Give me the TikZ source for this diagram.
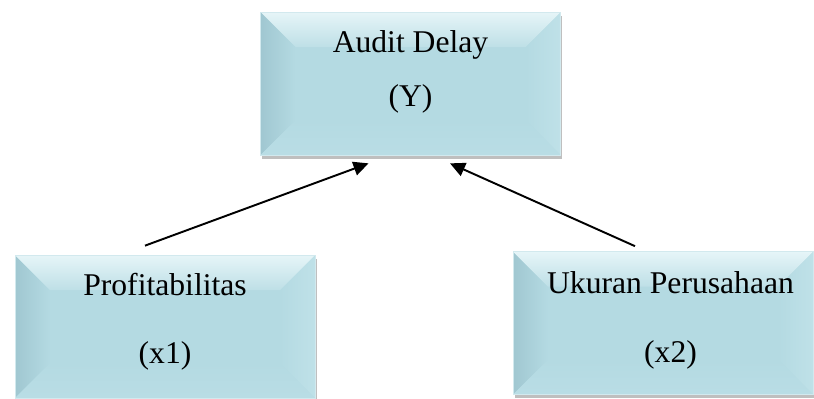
\documentclass[tikz,border=0pt]{standalone}
\usepackage{fontspec}
\setmainfont{Liberation Serif}
\usepackage{tikz}
\usetikzlibrary{arrows.meta,positioning,shadows}
\definecolor{BoxFill}{HTML}{B4DAE2}
\definecolor{BevTop}{HTML}{E6F5F8}
\definecolor{BevLeft}{HTML}{A0C7D1}
\definecolor{BevRight}{HTML}{BFE1E8}
\definecolor{BevBot}{HTML}{B9DDE5}

\begin{document}
\begin{tikzpicture}[
  bevbox/.style={rectangle, fill=BoxFill, draw=BoxFill!60!white, line width=0.4pt,
                 minimum width=6.0cm, minimum height=2.86cm,
                 align=center, font=\fontsize{18}{21.6}\selectfont,
                 drop shadow={shadow xshift=0.03cm, shadow yshift=-0.07cm, opacity=0.25, fill=black},
                 path picture={
                   \coordinate (sw) at (path picture bounding box.south west);
                   \coordinate (ne) at (path picture bounding box.north east);
                   \coordinate (nw) at (sw |- ne);
                   \coordinate (se) at (ne |- sw);
                   \shade[left color=BevLeft, right color=BoxFill]
                     (nw) -- ([shift={(0.7,-0.7)}]nw) -- ([shift={(0.7,0.7)}]sw) -- (sw) -- cycle;
                   \shade[left color=BoxFill, right color=BevRight]
                     (ne) -- (se) -- ([shift={(-0.7,0.7)}]se) -- ([shift={(-0.7,-0.7)}]ne) -- cycle;
                   \shade[top color=BoxFill, bottom color=BevBot]
                     (sw) -- ([shift={(0.7,0.7)}]sw) -- ([shift={(-0.7,0.7)}]se) -- (se) -- cycle;
                   \shade[top color=BevTop, bottom color=BoxFill!80!BevTop]
                     (nw) -- (ne) -- ([shift={(-0.7,-0.7)}]ne) -- ([shift={(0.7,-0.7)}]nw) -- cycle;
                 }},
  arr/.style={-{Triangle[length=0.3cm, width=0.28cm]}, line width=1.1pt, draw=black}
]
\useasboundingbox (0,0) rectangle (16.28,-7.96);

\node[bevbox, text depth=0.6cm] (delay) at (8.21,-1.67)   {Audit Delay\\[9pt](Y)};
\node[bevbox, text depth=0.32cm] (profit) at (3.30,-6.53)  {Profitabilitas\\[17pt](x1)};
\node[bevbox, text depth=0.24cm] (ukuran) at (13.26,-6.46) {\hspace*{0.3cm}Ukuran Perusahaan\\[18pt]\hspace*{0.3cm}(x2)};

\draw[arr] ([xshift=-0.4cm, yshift=0.18cm]profit.north) -- ([xshift=-0.84cm, yshift=-0.16cm]delay.south);
\draw[arr] ([xshift=-0.56cm, yshift=0.1cm]ukuran.north) -- ([xshift=0.79cm, yshift=-0.16cm]delay.south);
\end{tikzpicture}
\end{document}
